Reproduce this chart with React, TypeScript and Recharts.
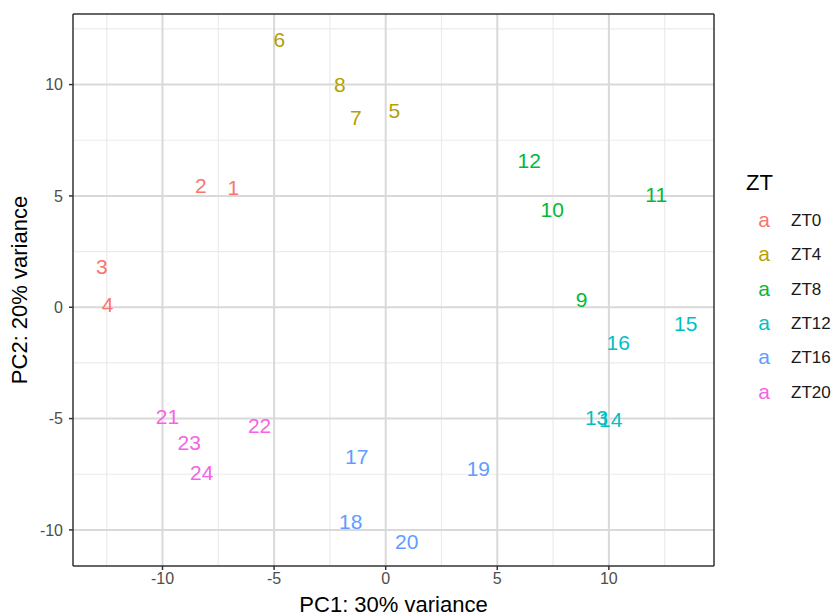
import { ScatterChart, Scatter, XAxis, YAxis, ReferenceLine, Label } from "recharts";

const groups = ["ZT0", "ZT4", "ZT8", "ZT12", "ZT16", "ZT20"];
const groupColors = ["#F8766D", "#B79F00", "#00BA38", "#00BFC4", "#619CFF", "#F564E3"];

const sampleLabels = ["1","2","3","4","5","6","7","8","9","10","11","12","13","14","15","16","17","18","19","20","21","22","23","24"];
const sampleGroup = ["ZT0","ZT0","ZT0","ZT0","ZT4","ZT4","ZT4","ZT4","ZT8","ZT8","ZT8","ZT8","ZT12","ZT12","ZT12","ZT12","ZT16","ZT16","ZT16","ZT16","ZT20","ZT20","ZT20","ZT20"];
const pc1 = [-6.83, -8.28, -12.72, -12.46, 0.39, -4.77, -1.34, -2.05, 8.78, 7.46, 12.12, 6.43, 9.45, 10.08, 13.44, 10.42, -1.3, -1.57, 4.15, 0.94, -9.78, -5.65, -8.8, -8.24];
const pc2 = [5.36, 5.45, 1.84, 0.13, 8.85, 12.03, 8.5, 10.0, 0.36, 4.39, 5.07, 6.57, -4.93, -5.03, -0.73, -1.59, -6.69, -9.6, -7.24, -10.54, -4.89, -5.33, -6.09, -7.42];

const majorTicks = [-10, -5, 0, 5, 10];
const xMinor = [-12.5, -7.5, -2.5, 2.5, 7.5, 12.5];
const yMinor = [-7.5, -2.5, 2.5, 7.5, 12.5];
const xDomain = [-14.01, 14.71];
const yDomain = [-11.62, 13.17];

const FONT = "'Liberation Sans', Arial, sans-serif";

const TextMark = (props: any) => {
  const { cx, cy, payload, fill } = props;
  return (
    <text x={cx} y={cy} textAnchor="middle" dominantBaseline="central" fill={fill} fontSize={21} fontFamily={FONT}>
      {payload.label}
    </text>
  );
};

// legend drawn next to the chart, ggplot style
const LegendBox = () => (
  <div style={{ fontFamily: FONT }}>
    <div style={{ position: "absolute", left: 746, top: 171, height: 24, lineHeight: "24px", fontSize: 22, color: "#000" }}>ZT</div>
    {groups.map((g, i) => (
      <div key={g}>
        <div style={{ position: "absolute", left: 752, width: 24, textAlign: "center", top: 208 + i * 34.3, height: 24, lineHeight: "24px", fontSize: 21, color: groupColors[i] }}>a</div>
        <div style={{ position: "absolute", left: 791, top: 209 + i * 34.3, height: 24, lineHeight: "24px", fontSize: 17, color: "#1a1a1a" }}>{g}</div>
      </div>
    ))}
  </div>
);

export default function App() {
  const seriesData = groups.map((g) =>
    sampleLabels
      .map((label, i) => ({ label, x: pc1[i], y: pc2[i], g: sampleGroup[i] }))
      .filter((d) => d.g === g)
  );
  return (
    <div style={{ position: "absolute", left: 0, top: 0, width: 834, height: 616, background: "#fff" }}>
      <ScatterChart width={834} height={616} margin={{ top: 14, right: 120, bottom: 0, left: 0 }}>
        {xMinor.map((v) => (
          <ReferenceLine key={"xm" + v} x={v} stroke="#ebebeb" strokeWidth={1.2} ifOverflow="hidden" />
        ))}
        {yMinor.map((v) => (
          <ReferenceLine key={"ym" + v} y={v} stroke="#ebebeb" strokeWidth={1.2} ifOverflow="hidden" />
        ))}
        {majorTicks.map((v) => (
          <ReferenceLine key={"xM" + v} x={v} stroke="#d9d9d9" strokeWidth={2} />
        ))}
        {majorTicks.map((v) => (
          <ReferenceLine key={"yM" + v} y={v} stroke="#d9d9d9" strokeWidth={2} />
        ))}
        <XAxis
          type="number"
          dataKey="x"
          domain={xDomain}
          ticks={majorTicks}
          allowDataOverflow
          height={50}
          tickSize={4}
          tickMargin={3}
          axisLine={false}
          tickLine={{ stroke: "#333", strokeWidth: 1.5 }}
          tick={{ fill: "#4d4d4d", fontSize: 16, fontFamily: FONT }}
        >
          <Label
            content={({ viewBox }: any) => (
              <text x={viewBox.x + viewBox.width / 2} y={viewBox.y + 46} textAnchor="middle" fontSize={22} fontFamily={FONT} fill="#000">
                PC1: 30% variance
              </text>
            )}
          />
        </XAxis>
        <YAxis
          type="number"
          dataKey="y"
          domain={yDomain}
          ticks={majorTicks}
          allowDataOverflow
          width={73}
          tickSize={4}
          tickMargin={6}
          axisLine={false}
          tickLine={{ stroke: "#333", strokeWidth: 1.5 }}
          tick={{ fill: "#4d4d4d", fontSize: 16, fontFamily: FONT }}
        >
          <Label
            content={({ viewBox }: any) => {
              const cx = 19;
              const cy = viewBox.y + viewBox.height / 2;
              return (
                <text x={cx} y={cy} transform={`rotate(-90 ${cx} ${cy})`} textAnchor="middle" dominantBaseline="central" fontSize={22} fontFamily={FONT} fill="#000">
                  PC2: 20% variance
                </text>
              );
            }}
          />
        </YAxis>
        <ReferenceLine segment={[{ x: xDomain[0], y: yDomain[0] }, { x: xDomain[1], y: yDomain[0] }]} stroke="#333" strokeWidth={1.5} />
        <ReferenceLine segment={[{ x: xDomain[0], y: yDomain[1] }, { x: xDomain[1], y: yDomain[1] }]} stroke="#333" strokeWidth={1.5} />
        <ReferenceLine segment={[{ x: xDomain[0], y: yDomain[0] }, { x: xDomain[0], y: yDomain[1] }]} stroke="#333" strokeWidth={1.5} />
        <ReferenceLine segment={[{ x: xDomain[1], y: yDomain[0] }, { x: xDomain[1], y: yDomain[1] }]} stroke="#333" strokeWidth={1.5} />
        {groups.map((g, i) => (
          <Scatter key={g} name={g} data={seriesData[i]} fill={groupColors[i]} shape={<TextMark />} isAnimationActive={false} />
        ))}
      </ScatterChart>
      <LegendBox />
    </div>
  );
}
